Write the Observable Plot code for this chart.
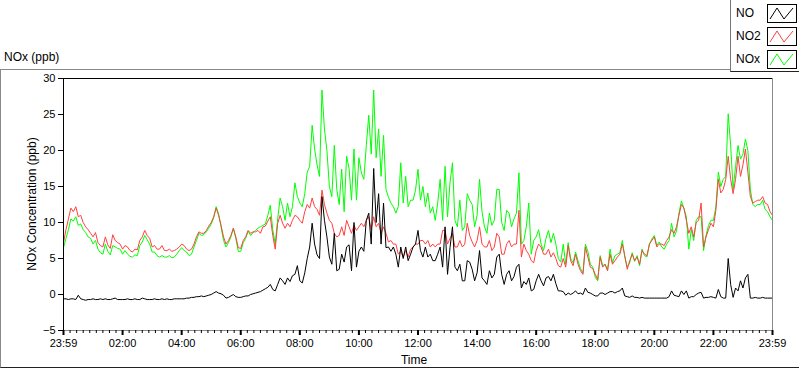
<!DOCTYPE html>
<html>
<head>
<meta charset="utf-8">
<script src="https://cdn.jsdelivr.net/npm/d3@7"></script>
<script src="https://cdn.jsdelivr.net/npm/@observablehq/plot@0.6"></script>
<style>
  html, body { margin: 0; padding: 0; background: #fff; }
  #fig { position: relative; width: 800px; height: 369px; overflow: hidden; font-family: "Liberation Sans", Arial, sans-serif; color: #000; }
  #panel { position: absolute; left: 0; top: 69px; width: 799px; height: 299px; border-top: 1px solid #8a8a8a; border-left: 1px solid #8a8a8a; border-bottom: 1px solid #222; box-sizing: border-box; }
  #chart { position: absolute; left: 0; top: 69px; }
  .txt { position: absolute; font-size: 12px; white-space: nowrap; line-height: 14px; }
  #legend { position: absolute; left: 730px; top: -1px; width: 69px; height: 73px; background: #fff; border-left: 1px solid #777; border-bottom: 1px solid #222; box-sizing: border-box; }
  .lg-row { position: absolute; left: 5px; width: 62px; height: 19px; }
  .lg-row span { position: absolute; left: 0; top: 2px; font-size: 12px; }
  .lg-row svg { position: absolute; left: 31px; top: 0; }
</style>
</head>
<body>
<div id="fig">
  <div id="panel"></div>
  <div class="txt" style="left:4px; top:50px;">NOx (ppb)</div>
  <div id="chart"></div>
  <div class="txt" style="left:32px; top:204px; transform: translate(-50%,-50%) rotate(-90deg);">NOx Concentration (ppb)</div>
  <div class="txt" style="left:414px; top:360px; transform: translate(-50%,-50%);">Time</div>
  <div id="legend"></div>
</div>
<script>
// 5-minute samples from 23:59 (hour 0) to 23:59 next day (hour 24)
const no = [
 -0.6,-0.6,-0.7,-0.6,-0.6,-0.7,-0.1,-0.6,-0.7,-0.8,-0.7,-0.7,
 -0.6,-0.7,-0.7,-0.6,-0.7,-0.6,-0.7,-0.7,-0.6,-0.5,-0.7,-0.7,
 -0.7,-0.7,-0.6,-0.7,-0.7,-0.6,-0.7,-0.7,-0.5,-0.6,-0.7,-0.7,
 -0.7,-0.6,-0.7,-0.7,-0.6,-0.7,-0.6,-0.7,-0.7,-0.6,-0.6,-0.6,
 -0.6,-0.6,-0.5,-0.5,-0.4,-0.4,-0.3,-0.3,-0.2,-0.3,-0.2,-0.1,
 0.0,0.2,0.4,0.2,0.1,-0.1,-0.5,-0.4,-0.2,0.0,-0.3,-0.4,
 -0.4,-0.3,-0.2,-0.2,0.0,0.1,0.2,0.3,0.4,0.6,0.8,1.0,
 1.4,0.7,0.5,1.4,2.3,1.9,1.4,2.3,1.8,2.6,2.8,4.0,
 1.9,1.6,3.0,5.0,6.6,9.9,7.0,5.5,5.0,13.6,10.3,8.0,
 5.2,4.2,8.5,3.3,3.5,5.6,4.5,6.6,6.9,3.3,10.0,3.8,
 6.0,6.6,6.0,10.3,11.3,7.0,17.5,10.0,14.0,7.0,12.7,6.5,
 6.6,6.0,6.6,5.6,3.8,6.6,5.0,6.6,4.7,5.6,6.6,7.0,
 8.9,6.1,5.2,6.6,5.2,5.6,4.7,4.7,5.6,6.6,3.8,9.4,
 2.8,6.5,9.4,3.8,3.3,4.2,1.9,1.9,4.7,4.5,3.5,1.9,
 3.0,6.1,2.3,1.9,1.4,3.3,2.3,2.8,5.2,5.6,2.8,1.4,
 2.8,3.3,1.9,2.5,3.8,4.2,0.9,1.8,1.4,2.3,0.5,0.7,
 1.9,2.8,1.9,1.2,2.3,2.5,1.9,2.8,1.5,0.5,0.5,0.4,
 -0.1,0.2,0.0,0.2,0.5,0.1,0.2,0.0,0.9,0.3,0.2,0.0,
 -0.2,-0.2,0.2,0.2,0.0,0.2,0.4,0.4,0.2,0.4,0.5,0.9,
 -0.2,-0.3,-0.4,-0.2,-0.4,-0.4,-0.5,-0.4,-0.5,-0.5,-0.5,-0.5,
 -0.5,-0.5,-0.5,-0.5,-0.5,-0.5,-0.3,0.5,-0.1,-0.2,-0.3,0.5,
 0.0,0.5,-0.5,-0.3,-0.3,0.0,0.2,0.3,-0.5,-0.4,-0.4,-0.3,
 -0.4,-0.5,0.7,-0.3,-0.5,-0.5,5.0,1.4,-0.4,0.9,0.5,1.9,
 0.9,2.3,2.8,-0.5,-0.5,-0.4,-0.5,-0.5,-0.4,-0.5,-0.5,-0.5,-0.5
];
const no2 = [
 7.2,9.0,10.5,12.0,11.5,12.2,10.8,11.0,10.0,9.4,9.0,8.5,
 8.0,8.6,7.2,6.8,6.6,8.0,6.9,6.4,8.3,7.5,7.2,7.0,
 6.3,6.8,6.6,6.1,5.9,6.3,6.2,7.5,8.0,8.9,8.2,7.8,
 6.6,6.8,6.3,6.3,6.8,6.1,6.1,6.3,6.0,6.1,6.3,6.6,
 7.0,6.8,6.3,6.1,6.3,7.0,8.0,8.7,8.5,8.5,8.9,9.5,
 10.0,10.8,12.0,11.0,9.6,8.0,7.0,7.5,8.2,9.2,8.0,6.5,
 6.4,7.5,8.0,8.9,8.5,8.7,8.7,8.9,8.5,9.4,9.5,10.2,
 10.8,8.2,6.3,9.9,11.0,9.9,9.2,9.9,9.4,10.3,11.0,10.8,
 10.3,9.9,11.5,12.5,12.0,13.4,12.2,11.8,11.0,14.5,12.5,11.3,
 10.3,9.9,8.5,8.0,8.2,9.4,8.2,10.3,9.4,8.5,9.6,8.9,
 9.4,9.9,9.4,10.3,10.8,9.0,10.8,9.4,9.9,8.5,9.4,8.5,
 7.3,7.5,7.0,7.0,5.6,6.0,5.2,6.1,5.2,6.3,6.6,7.0,
 7.0,7.5,7.5,7.0,7.5,6.6,7.0,6.6,7.0,7.0,8.9,8.9,
 7.0,7.8,8.5,6.6,6.6,7.5,6.6,7.0,9.9,8.2,7.3,6.6,
 7.5,9.4,7.0,6.6,6.6,7.5,6.1,6.6,8.5,8.0,5.6,5.6,
 7.0,7.5,6.6,7.0,7.0,11.7,5.2,7.0,6.1,5.6,4.7,4.4,
 6.1,7.0,6.6,5.6,5.6,6.3,5.2,5.8,5.0,4.0,3.8,5.0,
 3.8,6.8,4.7,4.0,5.6,4.2,3.3,2.8,6.6,5.2,3.8,3.6,
 2.8,2.1,5.2,3.8,4.2,3.3,5.6,4.2,4.7,5.2,5.6,7.0,
 5.4,3.5,4.7,5.6,4.7,5.2,4.2,6.1,5.6,5.4,7.0,7.5,
 8.0,6.6,7.0,7.0,6.8,7.5,8.0,9.0,8.5,9.4,11.0,12.5,
 12.0,10.3,8.5,9.4,8.0,10.0,10.3,12.7,6.6,8.0,9.0,9.9,
 9.4,11.7,16.0,14.1,14.6,16.0,19.2,16.0,14.0,16.0,19.2,16.4,
 18.0,20.2,17.0,13.6,12.7,12.9,13.1,13.1,13.6,12.7,12.5,11.5,11.0
];
const nox = [
 6.5,7.8,9.0,10.5,10.2,10.8,9.6,9.8,9.0,8.6,8.0,7.8,
 7.0,7.5,6.3,5.8,5.6,7.0,6.0,5.5,6.8,6.6,6.4,6.3,
 5.6,6.1,5.6,5.3,5.2,5.5,5.4,6.8,7.3,8.2,7.6,7.0,
 5.9,5.9,5.4,5.2,5.4,5.2,5.2,5.4,5.1,5.2,5.6,6.1,
 6.5,6.1,5.9,5.4,5.6,6.6,7.5,8.5,8.2,8.3,8.7,9.2,
 9.8,10.6,12.2,11.2,9.4,7.5,6.6,7.2,8.0,9.2,7.8,6.0,
 6.0,7.2,7.8,8.8,8.2,8.6,8.9,9.2,9.4,9.6,9.8,11.0,
 12.4,9.0,7.0,10.5,13.4,12.2,10.3,12.7,10.8,12.2,15.5,13.6,
 12.7,12.2,14.0,17.0,17.8,23.5,20.2,18.0,16.4,28.4,23.0,20.0,
 15.0,13.6,20.7,14.6,12.5,17.4,11.5,19.2,17.5,13.1,20.2,13.1,
 19.0,16.9,16.0,20.7,24.9,19.5,28.4,19.0,23.0,16.4,22.1,14.6,
 13.5,12.7,12.2,11.3,12.2,18.3,12.7,16.4,12.2,13.1,13.1,14.5,
 17.4,13.1,15.0,12.2,14.1,11.3,12.2,10.3,12.7,16.0,10.3,17.8,
 10.8,15.5,18.3,10.3,9.4,13.1,8.9,9.4,14.0,13.1,12.5,9.4,
 11.0,16.0,11.5,9.4,8.5,11.3,9.6,10.3,14.6,14.6,10.0,8.9,
 11.7,11.3,9.4,10.5,11.3,16.9,7.0,7.5,9.4,12.7,5.6,7.5,
 8.0,9.0,7.0,6.1,7.8,8.9,7.2,8.5,7.0,5.0,4.5,7.0,
 4.2,7.2,5.0,4.4,5.9,4.7,3.6,3.0,7.0,6.0,4.2,3.8,
 2.4,1.9,5.4,4.0,4.2,3.4,6.3,4.4,5.4,5.6,5.8,7.5,
 5.2,3.8,4.4,5.8,4.6,5.4,4.0,6.3,5.4,5.2,7.0,7.7,
 8.2,6.8,7.3,6.6,6.3,7.0,7.5,9.9,8.0,8.8,11.3,13.0,
 12.0,10.8,6.3,9.0,7.5,10.3,10.8,10.8,6.1,8.2,9.6,10.3,
 10.3,12.2,17.0,15.0,16.0,16.4,25.1,20.7,14.6,17.8,20.7,18.8,
 19.5,21.6,20.0,14.6,12.5,12.2,12.5,12.5,13.1,11.8,11.5,10.8,10.3
];
const tickHours = [0,2,4,6,8,10,12,14,16,18,20,22,24];
const tickLabels = ["23:59","02:00","04:00","06:00","08:00","10:00","12:00","14:00","16:00","18:00","20:00","22:00","23:59"];
const minorPerMajor = 9;
const yTicks = [-5,0,5,10,15,20,25,30];
const seriesNames = ["NO","NO2","NOx"];
const seriesColors = ["#000000","#ff4040","#00ff00"];

const minutesPerSample = 5;
const rows = no.map((v, i) => ({h: i * minutesPerSample / 60, no: v, no2: no2[i], nox: nox[i]}));
const minorTicks = [];
for (let k = 0; k < tickHours.length - 1; k++) {
  const a = tickHours[k], b = tickHours[k + 1];
  for (let j = 1; j < minorPerMajor; j++) minorTicks.push(a + (b - a) * j / minorPerMajor);
}

const chart = Plot.plot({
  width: 800,
  height: 300,
  marginLeft: 63,
  marginRight: 28,
  marginTop: 9,
  marginBottom: 39,
  style: {background: "transparent", fontFamily: "Liberation Sans, Arial, sans-serif", fontSize: "11px", color: "#000"},
  x: {type: "linear", domain: [0, 24], label: null},
  y: {domain: [-5, 30], label: null},
  marks: [
    Plot.line(rows, {x: "h", y: "nox", stroke: seriesColors[2], strokeWidth: 1}),
    Plot.line(rows, {x: "h", y: "no2", stroke: seriesColors[1], strokeWidth: 1}),
    Plot.line(rows, {x: "h", y: "no", stroke: seriesColors[0], strokeWidth: 1}),
    Plot.ruleX([24], {stroke: "#8a8a8a"}),
    Plot.ruleY([-5], {stroke: "#8a8a8a"}),
    Plot.ruleY([30], {stroke: "#000"}),
    Plot.ruleX([0], {stroke: "#000"}),
    Plot.axisY(yTicks, {anchor: "left", tickSize: 5, tickPadding: 3, label: null}),
    Plot.axisX(minorTicks, {anchor: "bottom", tickSize: 3, tickFormat: () => "", label: null}),
    Plot.axisX(tickHours, {anchor: "bottom", tickSize: 5, strokeWidth: 2, tickPadding: 4, tickFormat: (d) => tickLabels[tickHours.indexOf(d)], label: null})
  ]
});
document.getElementById("chart").appendChild(chart);

// legend
const legend = document.getElementById("legend");
seriesNames.forEach((name, i) => {
  const row = document.createElement("div");
  row.className = "lg-row";
  row.style.top = (5 + i * 23) + "px";
  row.innerHTML = `<span>${name}</span><svg width="30" height="19"><rect x="0.5" y="0.5" width="29" height="18" fill="#fff" stroke="#000"/><polyline points="3,15 10,4 17,15 26,4" fill="none" stroke="${seriesColors[i]}" stroke-width="1"/></svg>`;
  legend.appendChild(row);
});
</script>
</body>
</html>
